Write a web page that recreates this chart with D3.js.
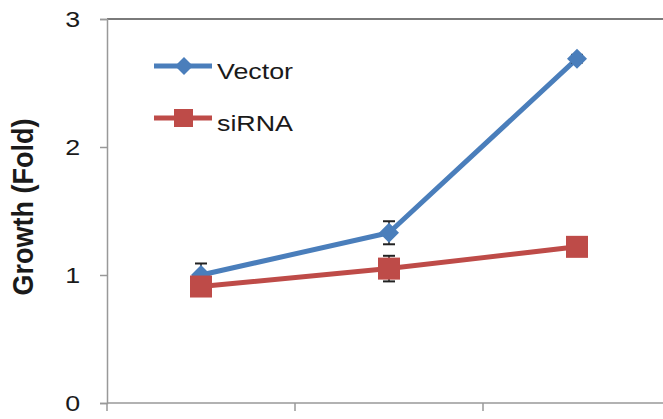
<!DOCTYPE html>
<html>
<head>
<meta charset="utf-8">
<script src="https://cdn.jsdelivr.net/npm/d3@7"></script>
<style>
  body { margin: 0; background: #fff; }
  svg { display: block; }
  text { font-family: "Liberation Sans", Arial, sans-serif; fill: #1a1a1a; }
</style>
</head>
<body>
<div id="chart"></div>
<script>
// data
const categories = ["1", "2", "3"];
const yTicks = [0, 1, 2, 3];
const vectorValues = [1.00, 1.33, 2.69];
const vectorErrors = [0.09, 0.09, 0.03];
const sirnaValues = [0.91, 1.05, 1.22];
const sirnaErrors = [0.05, 0.10, 0.04];

const svgWidth = 663, svgHeight = 419;
const plot = {left: 107, right: 671, top: 19, bottom: 403};

const svg = d3.select("#chart").append("svg")
    .attr("width", svgWidth)
    .attr("height", svgHeight);

const x = d3.scaleBand().domain(categories).range([plot.left, plot.right]);
const y = d3.scaleLinear().domain([0, 3]).range([plot.bottom, plot.top]);

// top border of the plot area
svg.append("line")
    .attr("x1", plot.left).attr("x2", plot.right)
    .attr("y1", plot.top).attr("y2", plot.top)
    .attr("stroke", "#7a7a7a").attr("stroke-width", 2);

// y axis
let yAxis = svg.append("g")
    .attr("transform", "translate(" + plot.left + ",0)")
    .call(d3.axisLeft(y).tickValues(yTicks).tickSize(7).tickFormat(d3.format("d")));
yAxis.select(".domain").attr("stroke", "#999").attr("stroke-width", 1.5);
yAxis.selectAll(".tick line").attr("stroke", "#999").attr("stroke-width", 1.5);
yAxis.selectAll(".tick text")
    .attr("x", -22)
    .attr("dy", "0.36em")
    .attr("transform", "scale(1.22,1)")
    .attr("font-size", 22)
    .attr("fill", "#1a1a1a");

// x axis: line plus ticks between categories
let xAxis = svg.append("g");
xAxis.append("line")
    .attr("x1", plot.left).attr("x2", plot.right)
    .attr("y1", y(0)).attr("y2", y(0))
    .attr("stroke", "#999").attr("stroke-width", 1.5);
xAxis.selectAll(".xtick")
    .data(categories)
    .enter().append("line")
    .attr("class", "xtick")
    .attr("x1", d => x(d)).attr("x2", d => x(d))
    .attr("y1", y(0)).attr("y2", y(0) + 8)
    .attr("stroke", "#999").attr("stroke-width", 1.5);

// y axis title
svg.append("text")
    .attr("transform", "translate(22,207) scale(1.12,1) rotate(-90)")
    .attr("text-anchor", "middle")
    .attr("dy", "0.35em")
    .attr("font-size", 27)
    .attr("font-weight", "bold")
    .text("Growth (Fold)");

let line = d3.line()
    .x((d, i) => x(categories[i]) + x.bandwidth() / 2)
    .y(d => y(d));

let diamond = function(s) {
    return "M0," + (-s) + "L" + s + ",0L0," + s + "L" + (-s) + ",0Z";
};

let drawSeries = function(values, errors, color, marker) {
    let g = svg.append("g");
    g.append("path")
        .datum(values)
        .attr("d", line)
        .attr("fill", "none")
        .attr("stroke", color)
        .attr("stroke-width", 5)
        .attr("stroke-linejoin", "round");

    let eb = g.selectAll(".err")
        .data(values)
        .enter().append("g")
        .attr("transform", (d, i) => "translate(" + (x(categories[i]) + x.bandwidth() / 2) + ",0)");
    eb.append("line")
        .attr("y1", (d, i) => y(d + errors[i]))
        .attr("y2", (d, i) => y(d - errors[i]))
        .attr("stroke", "#222").attr("stroke-width", 1.5);
    eb.append("line")
        .attr("x1", -6).attr("x2", 6)
        .attr("y1", (d, i) => y(d + errors[i]))
        .attr("y2", (d, i) => y(d + errors[i]))
        .attr("stroke", "#222").attr("stroke-width", 2);
    eb.append("line")
        .attr("x1", -6).attr("x2", 6)
        .attr("y1", (d, i) => y(d - errors[i]))
        .attr("y2", (d, i) => y(d - errors[i]))
        .attr("stroke", "#222").attr("stroke-width", 2);

    let m = g.selectAll(".marker")
        .data(values)
        .enter();
    if (marker == "diamond") {
        m.append("path")
            .attr("d", diamond(10))
            .attr("transform", (d, i) => "translate(" + (x(categories[i]) + x.bandwidth() / 2) + "," + y(d) + ")")
            .attr("fill", color);
    } else {
        m.append("rect")
            .attr("x", (d, i) => x(categories[i]) + x.bandwidth() / 2 - 11)
            .attr("y", d => y(d) - 11)
            .attr("width", 22).attr("height", 22)
            .attr("fill", color);
    }
};

drawSeries(vectorValues, vectorErrors, "#4a7ebb", "diamond");
drawSeries(sirnaValues, sirnaErrors, "#be4b48", "square");

// legend
let legend = [
    {name: "Vector", color: "#4a7ebb", marker: "diamond", y: 66},
    {name: "siRNA", color: "#be4b48", marker: "square", y: 118}
];
let lg = svg.selectAll(".legend")
    .data(legend)
    .enter().append("g")
    .attr("class", "legend")
    .attr("transform", d => "translate(0," + d.y + ")");
lg.append("line")
    .attr("x1", 154).attr("x2", 212)
    .attr("stroke", d => d.color)
    .attr("stroke-width", 5);
lg.filter(d => d.marker == "diamond").append("path")
    .attr("d", diamond(9))
    .attr("transform", "translate(184,0)")
    .attr("fill", d => d.color);
lg.filter(d => d.marker == "square").append("rect")
    .attr("x", 174).attr("y", -9)
    .attr("width", 19).attr("height", 18)
    .attr("fill", d => d.color);
lg.append("text")
    .attr("x", 217 / 1.22)
    .attr("y", 13)
    .attr("transform", "scale(1.22,1)")
    .attr("font-size", 22)
    .text(d => d.name);
</script>
</body>
</html>
